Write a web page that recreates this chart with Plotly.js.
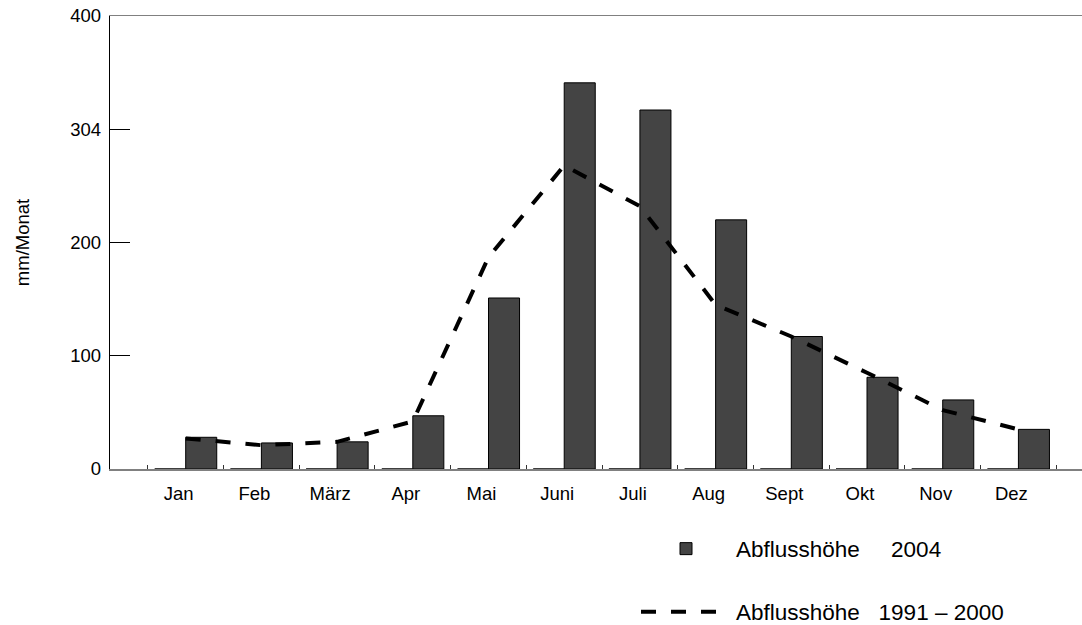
<!DOCTYPE html>
<html><head><meta charset="utf-8">
<script src="https://cdn.plot.ly/plotly-3.0.1.min.js"></script>
<style>html,body{margin:0;padding:0;background:#fff}#chart{width:1082px;height:625px}</style>
</head><body><div id="chart"></div>
<script>
const months = ['Jan','Feb','März','Apr','Mai','Juni','Juli','Aug','Sept','Okt','Nov','Dez'];
const abfluss2004 = [28, 23, 24, 47, 151, 341, 317, 220, 117, 81, 61, 35];
const abflussMittel = [27, 21, 24, 42, 187, 268, 232, 145, 117, 85, 52, 35];
const leer = [0, 0, 0, 0, 0, 0, 0, 0, 0, 0, 0, 0];
const yTickVals = [0, 100, 200, 300, 400];
const yTickText = ['0', '100', '200', '304', '400'];
const name2004 = 'Abflusshöhe\u00A0\u00A0\u00A0\u00A0\u00A02004';
const nameMittel = 'Abflusshöhe\u00A0\u00A0\u00A01991 – 2000';

const traces = [
  {type:'bar', x:months, y:leer, showlegend:false, hoverinfo:'skip',
   marker:{color:'#444444', line:{color:'#000', width:1.5}}},
  {type:'bar', x:months, y:abfluss2004, name:name2004, legend:'legend',
   marker:{color:'#444444', line:{color:'#000', width:1}}},
  {type:'scatter', mode:'lines', x:months, y:abflussMittel, name:nameMittel, legend:'legend2',
   line:{color:'#000', width:4, dash:'15px,15px'}}
];

const W = 1082, H = 625;
const L = 110, T = 16, B = 156;
const PW = W - L;
const layout = {
  width:W, height:H,
  margin:{l:L, r:0, t:T, b:B, pad:0},
  paper_bgcolor:'#fff', plot_bgcolor:'#fff',
  font:{family:'Liberation Sans, Arial, Helvetica, sans-serif', color:'#000', size:18},
  barmode:'group', bargap:0.18, bargroupgap:0,
  xaxis:{type:'category', categoryorder:'array', categoryarray:months,
    range:[-1, 11.84], tickson:'boundaries', ticks:'inside', ticklen:4,
    tickcolor:'#333', tickwidth:1, showline:true, linecolor:'#808080', linewidth:1.5,
    mirror:true, showgrid:false, zeroline:false, layer:'below traces', tickangle:0,
    tickfont:{size:18.5}, ticklabelshift:-7, ticklabelstandoff:7},
  yaxis:{range:[0, 400], tickmode:'array', tickvals:yTickVals, ticktext:yTickText,
    ticks:'inside', ticklen:20, tickcolor:'#000', tickwidth:1.2,
    showline:true, linecolor:'#000', linewidth:1.2, showgrid:false, zeroline:false,
    tickfont:{size:18.5}, ticklabelstandoff:4,
    title:{text:'mm/Monat', font:{size:18.5}, standoff:35}},
  showlegend:true,
  legend:{xref:'paper', yref:'container', x:(636 - L)/PW, y:1 - 549/H,
    xanchor:'left', yanchor:'middle',
    font:{size:22.5}, itemwidth:90, bgcolor:'rgba(0,0,0,0)'},
  legend2:{xref:'paper', yref:'container', x:(636 - L)/PW, y:1 - 612/H,
    xanchor:'left', yanchor:'middle',
    font:{size:22.5}, itemwidth:90, bgcolor:'rgba(0,0,0,0)'}
};

Plotly.newPlot('chart', traces, layout, {displayModeBar:false, staticPlot:true});
</script>
</body></html>
